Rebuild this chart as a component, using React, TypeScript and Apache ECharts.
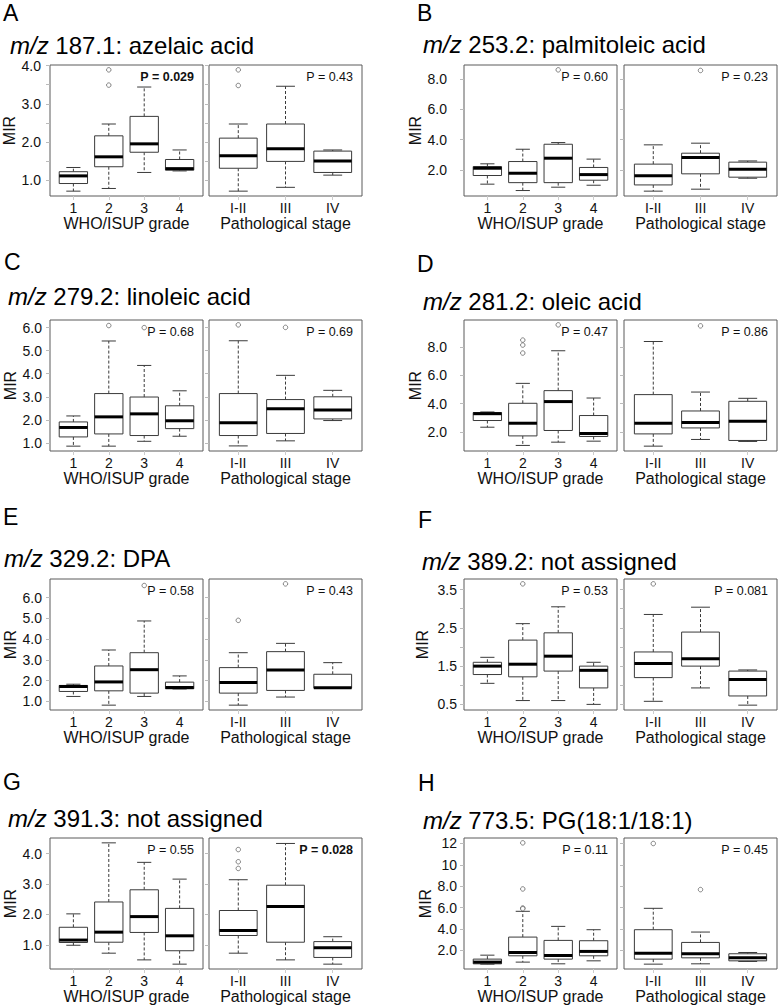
import React, { useEffect, useRef } from 'react';
import * as echarts from 'echarts';

const FONT = '"Liberation Sans", Arial, Helvetica, sans-serif';

const panelLetters = ['A', 'B', 'C', 'D', 'E', 'F', 'G', 'H'];
const mzValues = ['187.1', '253.2', '279.2', '281.2', '329.2', '389.2', '391.3', '773.5'];
const compoundNames = ['azelaic acid', 'palmitoleic acid', 'linoleic acid', 'oleic acid', 'DPA', 'not assigned', 'not assigned', 'PG(18:1/18:1)'];
const gradeLabels = ['1', '2', '3', '4'];
const stageLabels = ['I-II', 'III', 'IV'];
const gradePValues = ['0.029', '0.60', '0.68', '0.47', '0.58', '0.53', '0.55', '0.11'];
const stagePValues = ['0.43', '0.23', '0.69', '0.86', '0.43', '0.081', '0.028', '0.45'];

// boxes: [lower whisker, Q1, median, Q3, upper whisker]
const aGrade = [[0.71, 0.91, 1.11, 1.22, 1.33], [0.78, 1.35, 1.61, 2.16, 2.47], [1.20, 1.73, 1.95, 2.67, 3.44], [1.24, 1.26, 1.30, 1.54, 1.79]];
const aGradeOut = [[2, 3.89], [2, 3.49]];
const aStage = [[0.71, 1.31, 1.64, 2.10, 2.47], [0.81, 1.49, 1.82, 2.47, 3.46], [1.13, 1.20, 1.50, 1.76, 1.79]];
const aStageOut = [[1, 3.89], [1, 3.48]];

const bGrade = [[1.06, 1.63, 2.11, 2.22, 2.40], [0.64, 1.16, 1.78, 2.55, 3.36], [0.86, 1.16, 2.77, 3.69, 3.80], [0.99, 1.32, 1.69, 2.16, 2.71]];
const bGradeOut = [[3, 8.59]];
const bStage = [[0.60, 1.01, 1.61, 2.38, 3.65], [0.73, 1.74, 2.81, 3.10, 3.76], [1.45, 1.52, 2.05, 2.51, 2.59]];
const bStageOut = [[2, 8.55]];

const cGrade = [[0.86, 1.26, 1.67, 1.91, 2.17], [0.86, 1.39, 2.13, 3.14, 5.42], [1.07, 1.32, 2.26, 2.99, 4.36], [1.29, 1.62, 1.96, 2.61, 3.26]];
const cGradeOut = [[2, 6.09], [3, 6.00]];
const cStage = [[0.87, 1.32, 1.87, 3.14, 5.43], [1.09, 1.41, 2.48, 2.88, 3.93], [1.97, 2.04, 2.43, 3.00, 3.28]];
const cStageOut = [[1, 6.12], [2, 6.01]];

const dGrade = [[2.35, 2.82, 3.30, 3.38, 3.42], [1.07, 1.74, 2.63, 4.03, 5.43], [1.30, 2.12, 4.15, 4.92, 7.72], [1.37, 1.70, 1.91, 3.17, 4.40]];
const dGradeOut = [[2, 8.47], [2, 8.12], [2, 7.56], [3, 9.54]];
const dStage = [[1.02, 1.88, 2.63, 4.64, 8.37], [1.49, 2.30, 2.68, 3.49, 4.82], [1.35, 1.42, 2.77, 4.17, 4.38]];
const dStageOut = [[2, 9.47]];

const eGrade = [[1.24, 1.48, 1.72, 1.77, 1.83], [0.82, 1.51, 1.94, 2.71, 3.48], [1.24, 1.40, 2.53, 3.35, 4.88], [1.60, 1.61, 1.67, 1.93, 2.23]];
const eGradeOut = [[3, 6.59]];
const eStage = [[0.82, 1.40, 1.91, 2.63, 3.35], [1.21, 1.53, 2.52, 3.40, 3.80], [1.64, 1.64, 1.66, 2.31, 2.87]];
const eStageOut = [[1, 4.91], [2, 6.67]];

const fGrade = [[1.05, 1.28, 1.50, 1.60, 1.73], [0.60, 1.22, 1.55, 2.18, 2.61], [0.60, 1.37, 1.76, 2.37, 3.05], [0.50, 0.93, 1.39, 1.50, 1.60]];
const fGradeOut = [[2, 3.65]];
const fStage = [[0.58, 1.20, 1.57, 1.87, 2.85], [0.93, 1.50, 1.69, 2.39, 3.04], [0.48, 0.72, 1.15, 1.37, 1.40]];
const fStageOut = [[1, 3.65]];

const gGrade = [[0.99, 1.08, 1.16, 1.58, 2.02], [0.73, 1.09, 1.42, 2.41, 4.35], [0.51, 1.41, 1.93, 2.81, 3.71], [0.37, 0.81, 1.30, 2.20, 3.16]];
const gGradeOut: number[][] = [];
const gStage = [[0.73, 1.31, 1.47, 2.13, 3.14], [0.51, 1.09, 2.26, 2.96, 4.33], [0.37, 0.59, 0.91, 1.11, 1.27]];
const gStageOut = [[1, 4.13], [1, 3.73], [1, 3.51]];

const hGrade = [[0.72, 0.75, 0.91, 1.19, 1.56], [0.91, 1.50, 1.81, 3.25, 5.66], [0.75, 1.19, 1.53, 2.94, 4.25], [1.03, 1.50, 1.91, 2.91, 3.94]];
const hGradeOut = [[2, 12.06], [2, 7.75], [2, 5.97], [2, 5.90]];
const hStage = [[0.72, 1.19, 1.75, 3.94, 5.94], [0.75, 1.31, 1.69, 2.75, 3.72], [0.97, 1.03, 1.31, 1.69, 1.81]];
const hStageOut = [[1, 12.0], [2, 7.69]];

// y-axis tick positions and labelled ticks
const aTicks = [1, 1.5, 2, 2.5, 3, 3.5, 4];
const aLabels = [1, 2, 3, 4];
const bTicks = [2, 4, 6, 8];
const cTicks = [1, 2, 3, 4, 5, 6];
const dTicks = [2, 4, 6, 8];
const eTicks = [1, 2, 3, 4, 5, 6];
const fTicks = [0.5, 1, 1.5, 2, 2.5, 3, 3.5];
const fLabels = [0.5, 1.5, 2.5, 3.5];
const gTicks = [1, 2, 3, 4];
const hTicks = [2, 4, 6, 8, 10, 12];

const gradeBoxes = [aGrade, bGrade, cGrade, dGrade, eGrade, fGrade, gGrade, hGrade];
const gradeOutliers = [aGradeOut, bGradeOut, cGradeOut, dGradeOut, eGradeOut, fGradeOut, gGradeOut, hGradeOut];
const stageBoxes = [aStage, bStage, cStage, dStage, eStage, fStage, gStage, hStage];
const stageOutliers = [aStageOut, bStageOut, cStageOut, dStageOut, eStageOut, fStageOut, gStageOut, hStageOut];
const yTicks = [aTicks, bTicks, cTicks, dTicks, eTicks, fTicks, gTicks, hTicks];
const yLabels = [aLabels, bTicks, cTicks, dTicks, eTicks, fLabels, gTicks, hTicks];

// layout
const colPlots = [[[50, 203], [209, 362]], [[464, 617], [624, 777]]];
const rowTops = [65, 320, 579, 838];
const plotH = 131;
const titlePos = [[10, 45], [423, 44], [8, 296], [423, 301], [4, 558], [422, 561], [8, 818], [423, 820]];
const letterPos = [[3, 13], [417, 13], [4, 262], [417, 264], [3, 517], [418, 520], [3, 782], [418, 783]];
const yLabelMargin = [9, 17, 8, 17, 8, 7, 8, 7];
const mirCenterGap = [40, 42, 40, 40, 38, 42, 38, 38];

const BOX_COLOR = '#3a3a3a';

function renderBox(params: any, api: any) {
  const x = api.value(0);
  const low = api.value(1);
  const q1 = api.value(2);
  const med = api.value(3);
  const q3 = api.value(4);
  const high = api.value(5);
  const hw = 0.4;
  const cw = 0.2;
  const tl = api.coord([x - hw, q3]);
  const br = api.coord([x + hw, q1]);
  const cHigh = api.coord([x, high]);
  const cLow = api.coord([x, low]);
  const capL = api.coord([x - cw, high])[0];
  const capR = api.coord([x + cw, high])[0];
  const pm = api.coord([x, med]);
  const dashed = { stroke: BOX_COLOR, lineWidth: 1, lineDash: [3, 2] };
  const solid = { stroke: BOX_COLOR, lineWidth: 1 };
  return {
    type: 'group',
    children: [
      { type: 'line', shape: { x1: cHigh[0], y1: tl[1], x2: cHigh[0], y2: cHigh[1] }, style: dashed },
      { type: 'line', shape: { x1: cLow[0], y1: br[1], x2: cLow[0], y2: cLow[1] }, style: dashed },
      { type: 'line', shape: { x1: capL, y1: cHigh[1], x2: capR, y2: cHigh[1] }, style: solid },
      { type: 'line', shape: { x1: capL, y1: cLow[1], x2: capR, y2: cLow[1] }, style: solid },
      { type: 'rect', shape: { x: tl[0], y: tl[1], width: br[0] - tl[0], height: br[1] - tl[1] }, style: { fill: '#fff', stroke: BOX_COLOR, lineWidth: 1 } },
      { type: 'line', shape: { x1: tl[0], y1: pm[1], x2: br[0], y2: pm[1] }, style: { stroke: '#000', lineWidth: 3 } },
    ],
  };
}

function yFmt(v: number) {
  return v >= 10 ? String(Math.round(v)) : v.toFixed(1);
}

function buildOption() {
  const grid: any[] = [];
  const xAxis: any[] = [];
  const yAxis: any[] = [];
  const series: any[] = [];
  const graphic: any[] = [];

  for (let i = 0; i < 8; i++) {
    const col = i % 2;
    const row = Math.floor(i / 2);
    const top = rowTops[row];
    // shared y range (R default 4% extension of the data range)
    const allVals: number[] = [];
    [gradeBoxes[i], stageBoxes[i]].forEach((bs) => bs.forEach((b) => allVals.push(b[0], b[4])));
    [gradeOutliers[i], stageOutliers[i]].forEach((os) => os.forEach((o) => allVals.push(o[1])));
    const dmin = Math.min(...allVals);
    const dmax = Math.max(...allVals);
    const ext = (dmax - dmin) * 0.04;
    const ymin = dmin - ext;
    const ymax = dmax + ext;

    for (let j = 0; j < 2; j++) {
      const idx = i * 2 + j;
      const [x0, x1] = colPlots[col][j];
      const cats = j === 0 ? gradeLabels : stageLabels;
      const n = cats.length;
      const positions = cats.map((_, k) => k + 1);
      const boxes = j === 0 ? gradeBoxes[i] : stageBoxes[i];
      const outs = j === 0 ? gradeOutliers[i] : stageOutliers[i];
      const pval = j === 0 ? gradePValues[i] : stagePValues[i];

      grid.push({
        left: x0, top, width: x1 - x0, height: plotH,
        show: true, borderColor: '#5a5a5a', borderWidth: 1, backgroundColor: 'transparent',
      });
      xAxis.push({
        gridIndex: idx, type: 'value',
        min: 0.5 - 0.04 * n, max: n + 0.5 + 0.04 * n,
        axisLine: { show: false }, splitLine: { show: false },
        axisTick: { show: true, customValues: positions, length: 4, lineStyle: { color: '#ccc' } },
        axisLabel: {
          show: true, customValues: positions, margin: 5,
          formatter: (v: number) => cats[Math.round(v) - 1] ?? '',
          fontSize: 14, color: '#111', fontFamily: FONT,
        },
        name: j === 0 ? 'WHO/ISUP grade' : 'Pathological stage',
        nameLocation: 'middle', nameGap: 19,
        nameTextStyle: { fontSize: 16, color: '#111', fontFamily: FONT },
      });
      yAxis.push({
        gridIndex: idx, type: 'value', min: ymin, max: ymax,
        axisLine: { show: false }, splitLine: { show: false },
        axisTick: { show: true, customValues: yTicks[i], length: 4, lineStyle: { color: '#bbb' } },
        axisLabel: {
          show: j === 0, customValues: yLabels[i], margin: yLabelMargin[i],
          formatter: yFmt, fontSize: 14, color: '#111', fontFamily: FONT,
        },
        name: j === 0 ? 'MIR' : '',
        nameLocation: 'middle', nameGap: mirCenterGap[i] - 8, nameRotate: 90,
        nameTextStyle: { fontSize: 16, color: '#111', fontFamily: FONT },
      });
      series.push({
        type: 'custom', xAxisIndex: idx, yAxisIndex: idx,
        renderItem: renderBox,
        encode: { x: 0, y: [1, 2, 3, 4, 5] },
        data: boxes.map((b, k) => [k + 1, ...b]),
        silent: true,
      });
      series.push({
        type: 'scatter', xAxisIndex: idx, yAxisIndex: idx,
        symbol: 'circle', symbolSize: 4.5,
        itemStyle: { color: '#fff', borderColor: '#555', borderWidth: 0.9 },
        data: outs,
        silent: true,
      });
      const sig = parseFloat(pval) < 0.05;
      graphic.push({
        type: 'text', x: x1 - 9, y: top + 12, silent: true,
        style: {
          text: 'P = ' + pval,
          font: `${sig ? 'bold ' : ''}12.5px ${FONT}`,
          fill: '#111', align: 'right', verticalAlign: 'middle',
          textAlign: 'right', textVerticalAlign: 'middle',
        },
      });
    }

    graphic.push({
      type: 'text', x: letterPos[i][0], y: letterPos[i][1], silent: true,
      style: {
        text: panelLetters[i], font: `23px ${FONT}`, fill: '#000',
        align: 'left', verticalAlign: 'middle', textAlign: 'left', textVerticalAlign: 'middle',
      },
    });
    graphic.push({
      type: 'text', x: titlePos[i][0], y: titlePos[i][1], silent: true,
      style: {
        text: `{it|m/z} ${mzValues[i]}: ${compoundNames[i]}`,
        font: `24px ${FONT}`, fontSize: 24, fontFamily: FONT, fill: '#000',
        align: 'left', verticalAlign: 'middle', textAlign: 'left', textVerticalAlign: 'middle',
        rich: {
          it: { fontStyle: 'italic', fontSize: 24, fontFamily: FONT, fill: '#000' },
        },
      },
    });
  }

  return {
    animation: false,
    backgroundColor: '#fff',
    grid, xAxis, yAxis, series, graphic,
  };
}

export default function App() {
  const ref = useRef<HTMLDivElement>(null);
  useEffect(() => {
    if (!ref.current) return;
    const chart = echarts.init(ref.current, undefined, { renderer: 'svg' });
    chart.setOption(buildOption() as any);
    return () => chart.dispose();
  }, []);
  return <div ref={ref} style={{ position: 'absolute', left: 0, top: 0, width: 779, height: 1008 }} />;
}
